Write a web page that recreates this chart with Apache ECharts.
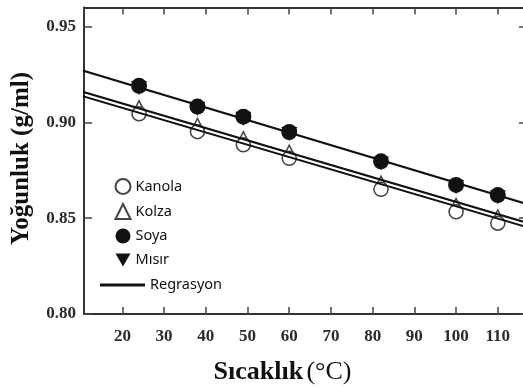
<!DOCTYPE html>
<html>
<head>
<meta charset="utf-8">
<script src="https://cdn.jsdelivr.net/npm/echarts@6/dist/echarts.min.js"></script>
<style>html,body{margin:0;padding:0;background:#fff;}#c{width:523px;height:388px;}</style>
</head>
<body>
<div id="c"></div>
<script>
// Data
const temps  = [24, 38, 49, 60, 82, 100, 110];
const kanola = [0.9045, 0.8952, 0.8883, 0.8813, 0.8651, 0.8534, 0.8474];
const kolza  = [0.9080, 0.8987, 0.8918, 0.8848, 0.8686, 0.8569, 0.8509];
const soya   = [0.9191, 0.9083, 0.9030, 0.8950, 0.8797, 0.8674, 0.8621];
const misir  = [0.9180, 0.9072, 0.9019, 0.8939, 0.8786, 0.8663, 0.8610];
const regX        = [10, 120];
const regSoyaMisir = [0.9274, 0.8554];
const regKolza     = [0.9163, 0.8457];
const regKanola    = [0.9140, 0.8434];
const xTicks = [20, 30, 40, 50, 60, 70, 80, 90, 100, 110];
const yTicks = [0.80, 0.85, 0.90, 0.95];
const seriesNames = ['Kanola', 'Kolza', 'Soya', 'Mısır'];
const regName = 'Regrasyon';
const xTitleBold = 'Sıcaklık';
const xTitleUnit = '(°C)';
const yTitle = 'Yoğunluk (g/ml)';

const pts = (ys) => temps.map((t, i) => [t, ys[i]]);
const reg = (ys) => regX.map((t, i) => [t, ys[i]]);

const frame = {color: '#333', width: 2};
const tickStyle = {color: '#444', width: 1.5};
const tickFont = {fontFamily: 'Liberation Serif', fontWeight: 'bold', fontSize: 17, color: '#2a2a2a'};
const invTri = 'path://M0,0 L16,0 L8,14 Z';
const legendText = {fontFamily: 'Noto Sans', fontSize: 14.5, color: '#111', lineHeight: 16};

const xCommon = {type: 'value', min: 10.8, max: 117, splitNumber: 10, splitLine: {show: false}};
const yCommon = {type: 'value', min: 0.80, max: 0.96, splitLine: {show: false}};

const chart = echarts.init(document.getElementById('c'), null, {renderer: 'canvas'});
chart.setOption({
  animation: false,
  backgroundColor: '#fff',
  grid: {left: 84, top: 7.5, width: 443, height: 306.5, outerBoundsMode: 'none', containLabel: false},
  xAxis: [
    Object.assign({}, xCommon, {position: 'bottom',
     axisLine: {show: true, onZero: false, lineStyle: frame},
     axisTick: {show: true, inside: true, length: 7, lineStyle: tickStyle},
     axisLabel: Object.assign({show: true, margin: 14, showMinLabel: false, showMaxLabel: false,
       formatter: (v) => (xTicks.indexOf(Math.round(v)) >= 0 && Math.abs(v - Math.round(v)) < 1e-6) ? String(Math.round(v)) : ''}, tickFont)}),
    Object.assign({}, xCommon, {position: 'top',
     axisLine: {show: true, onZero: false, lineStyle: frame},
     axisTick: {show: true, inside: true, length: 7, lineStyle: tickStyle},
     axisLabel: {show: false}})
  ],
  yAxis: [
    Object.assign({}, yCommon, {position: 'left',
     axisLine: {show: true, onZero: false, lineStyle: frame},
     axisTick: {show: true, inside: true, length: 8, customValues: yTicks, lineStyle: tickStyle},
     axisLabel: Object.assign({show: true, customValues: yTicks, margin: 8,
       formatter: (v) => v.toFixed(2)}, tickFont)}),
    Object.assign({}, yCommon, {position: 'right',
     axisLine: {show: true, onZero: false, lineStyle: frame},
     axisTick: {show: true, inside: true, length: 8, customValues: yTicks, lineStyle: tickStyle},
     axisLabel: {show: false}})
  ],
  legend: [
    {data: [seriesNames[0], seriesNames[1], seriesNames[2], {name: seriesNames[3], icon: invTri}],
     orient: 'vertical', left: 109.5, top: 173, padding: 5,
     itemWidth: 15, itemHeight: 15, itemGap: 8, textStyle: legendText},
    {data: [{name: regName, icon: 'path://M0,0 L45,0 L45,3 L0,3 Z'}], orient: 'vertical', left: 95, top: 272, padding: 5,
     itemWidth: 45, itemHeight: 3, textStyle: legendText}
  ],
  series: [
    {name: regName, type: 'line', data: reg(regSoyaMisir), symbol: 'none', z: 3,
     lineStyle: {color: '#111', width: 2}, itemStyle: {color: '#111'}},
    {name: regName, type: 'line', data: reg(regKolza), symbol: 'none', z: 3,
     lineStyle: {color: '#111', width: 2}, itemStyle: {color: '#111'}},
    {name: regName, type: 'line', data: reg(regKanola), symbol: 'none', z: 3,
     lineStyle: {color: '#111', width: 2}, itemStyle: {color: '#111'}},
    {name: 'Kolza', type: 'scatter', data: pts(kolza), symbol: 'triangle', symbolSize: 13, z: 2,
     itemStyle: {color: '#fff', borderColor: '#444', borderWidth: 1.5, opacity: 1}},
    {name: 'Kanola', type: 'scatter', data: pts(kanola), symbol: 'circle', symbolSize: 14, z: 2,
     itemStyle: {color: '#fff', borderColor: '#444', borderWidth: 1.5, opacity: 1}},
    {name: 'Mısır', type: 'scatter', data: pts(misir), symbol: invTri, symbolSize: [16, 14], z: 4,
     itemStyle: {color: '#111', opacity: 1}},
    {name: 'Soya', type: 'scatter', data: pts(soya), symbol: 'circle', symbolSize: 16, z: 4,
     itemStyle: {color: '#111', opacity: 1}}
  ],
  graphic: [
    {type: 'text', x: 282.5, y: 372, z: 10,
     style: {text: '{b|' + xTitleBold + '} {n|' + xTitleUnit + '}',
       align: 'center', verticalAlign: 'middle',
       rich: {b: {fontFamily: 'Liberation Serif', fontWeight: 'bold', fontSize: 26, fill: '#111'},
              n: {fontFamily: 'Liberation Serif', fontWeight: 'normal', fontSize: 26, fill: '#111'}}}},
    {type: 'text', x: 22, y: 158.5, rotation: Math.PI / 2, z: 10,
     style: {text: yTitle, align: 'center', verticalAlign: 'middle',
       fontFamily: 'Liberation Serif', fontWeight: 'bold', fontSize: 25, fill: '#111'}}
  ]
});
</script>
</body>
</html>
